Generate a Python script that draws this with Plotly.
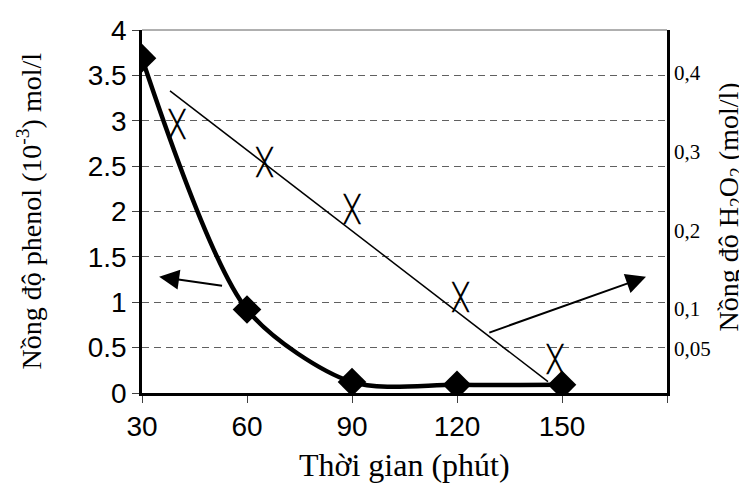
import plotly.graph_objects as go

# Phenol concentration (10^-3 mol/l) vs time (min)
phenol_t = [30, 60, 90, 120, 150]
phenol_c = [3.69, 0.92, 0.12, 0.09, 0.09]

# H2O2 concentration (mol/l) vs time (min)
h2o2_t = [40, 65, 90, 121, 148]
h2o2_c = [0.332, 0.284, 0.224, 0.112, 0.033]

# linear trend line for H2O2
trend_t = [38, 146]
trend_c = [0.377, 0.0075]

x_ticks = [30, 60, 90, 120, 150, 180]
x_labels = ["30", "60", "90", "120", "150", ""]
y_ticks = [0, 0.5, 1, 1.5, 2, 2.5, 3, 3.5, 4]
y_labels = ["0", "0.5", "1", "1.5", "2", "2.5", "3", "3.5", "4"]
y2_ticks = [0.05, 0.1, 0.2, 0.3, 0.4]
y2_labels = ["0,05", "0,1", "0,2", "0,3", "0,4"]

x_title = "Thời gian (phút)"
y_title = "Nồng độ phenol (10<sup>-3</sup>) mol/l"
y2_title = "Nồng độ H<sub>2</sub>O<sub>2</sub> (mol/l)"

serif = "Liberation Serif, Times New Roman, serif"
sans = "Liberation Sans, Arial, sans-serif"

fig = go.Figure()
fig.add_trace(go.Scatter(
    x=trend_t, y=trend_c, yaxis="y2", mode="lines",
    line=dict(color="black", width=1.5), showlegend=False, hoverinfo="skip"))
# tall thin X markers drawn as a box-drawing diagonal cross glyph
fig.add_trace(go.Scatter(
    x=h2o2_t, y=h2o2_c, yaxis="y2", mode="text",
    text=["╳"] * len(h2o2_t), textposition="middle center",
    textfont=dict(family="DejaVu Sans Mono", size=26, color="black"),
    showlegend=False))
fig.add_trace(go.Scatter(
    x=phenol_t, y=phenol_c, mode="lines+markers",
    line=dict(color="black", width=4.5, shape="spline", smoothing=0.8),
    marker=dict(symbol="diamond", size=22, color="black"),
    showlegend=False))

# arrows pointing to axes
fig.add_annotation(x=34.9, y=1.28, ax=53.3, ay=1.18, xref="x", yref="y",
                   axref="x", ayref="y", text="", showarrow=True,
                   arrowhead=2, arrowsize=2, arrowwidth=2, arrowcolor="black")
fig.add_annotation(x=174, y=1.28, ax=128.8, ay=0.66, xref="x", yref="y",
                   axref="x", ayref="y", text="", showarrow=True,
                   arrowhead=2, arrowsize=2, arrowwidth=2, arrowcolor="black")

# axis titles
fig.add_annotation(text=x_title, xref="paper", yref="paper", x=0.5, y=0,
                   xanchor="center", yanchor="middle", yshift=-72,
                   showarrow=False, font=dict(family=serif, size=32, color="black"))
fig.add_annotation(text=y_title, xref="paper", yref="paper", x=0, y=0.5,
                   xanchor="center", yanchor="middle", xshift=-112, textangle=-90,
                   showarrow=False, font=dict(family=serif, size=28, color="black"))
fig.add_annotation(text=y2_title, xref="paper", yref="paper", x=1, y=0.5,
                   xanchor="center", yanchor="middle", xshift=63, yshift=4,
                   textangle=-90,
                   showarrow=False, font=dict(family=serif, size=28, color="black"))

# thin top border
fig.add_shape(type="line", xref="paper", yref="paper", x0=0, x1=1, y0=1, y1=1,
              line=dict(color="#606060", width=1))

fig.update_layout(
    width=747, height=498,
    margin=dict(l=134, r=88, t=22, b=113),
    paper_bgcolor="white", plot_bgcolor="white",
    xaxis=dict(range=[30, 180], tickvals=x_ticks, ticktext=x_labels,
               showgrid=False, zeroline=False, automargin=False,
               showline=True, linecolor="black", linewidth=2.5,
               ticks="outside", ticklen=7, tickcolor="#404040", tickwidth=1,
               tickfont=dict(family=sans, size=28, color="black")),
    yaxis=dict(range=[0, 4], tickvals=y_ticks, ticktext=y_labels,
               showgrid=True, gridcolor="#606060", griddash="7px,5px", gridwidth=1,
               zeroline=False, automargin=False,
               showline=True, linecolor="black", linewidth=2.5,
               ticks="outside", ticklen=7, tickcolor="#404040", tickwidth=1,
               tickfont=dict(family=sans, size=28, color="black")),
    yaxis2=dict(overlaying="y", side="right", range=[-0.0069, 0.4544],
                tickvals=y2_ticks, ticktext=y2_labels,
                showgrid=False, zeroline=False, automargin=False,
                showline=True, linecolor="black", linewidth=2.5,
                ticks="", tickfont=dict(family=serif, size=21, color="black")),
)

fig.write_html("out.html")
